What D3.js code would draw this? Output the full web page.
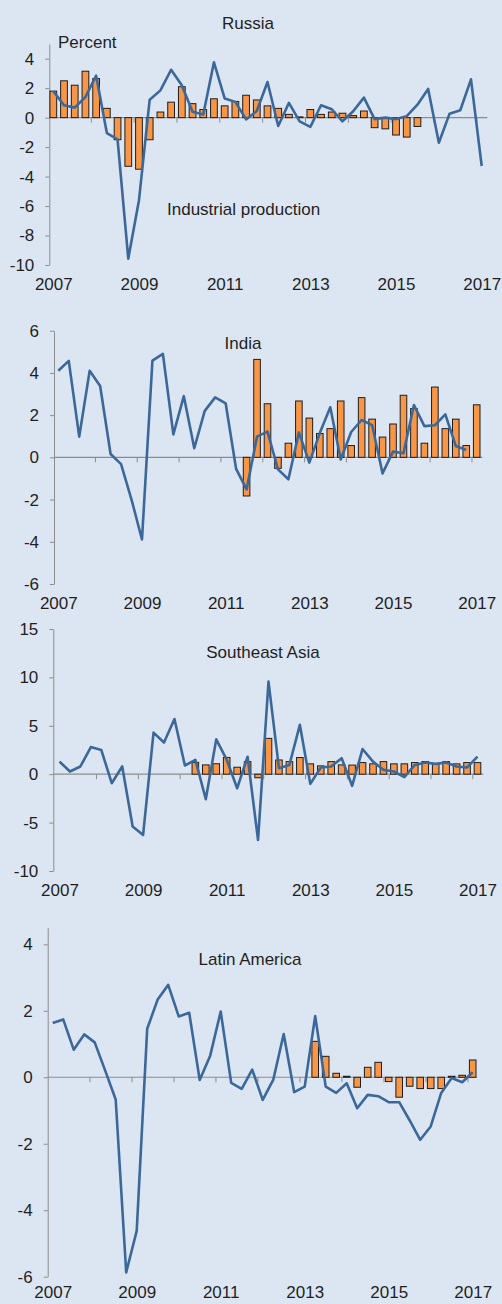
<!DOCTYPE html>
<html>
<head>
<meta charset="utf-8">
<script src="https://cdn.jsdelivr.net/npm/d3@7"></script>
<style>
  body { margin: 0; background: #dce6f2; }
  svg { display: block; font-family: "Liberation Sans", Arial, sans-serif; }
</style>
</head>
<body>
<script>
// quarterly, 2007Q1 .. 2017Q1 (41 points)
const yearLabels = ["2007", "2009", "2011", "2013", "2015", "2017"];
const labelQuarters = [0, 8, 16, 24, 32, 40];
const yearTickQuarters = [3.5, 7.5, 11.5, 15.5, 19.5, 23.5, 27.5, 31.5, 35.5, 39.5];

const russiaLine = [1.8, 0.84, 0.68, 1.4, 2.85, -1.05, -1.47, -9.57, -5.6, 1.22, 1.85, 3.25, 2.2, 0.4, 0.22, 3.75,
  1.3, 1.07, -0.12, 0.45, 2.42, -0.57, 1.0, -0.25, -0.63, 0.84, 0.57, -0.25, 0.43, 1.36, -0.1, 0.0, -0.1, 0.1, 0.88,
  1.95, -1.7, 0.27, 0.5, 2.6, -3.28];
const russiaBars = [1.8, 2.5, 2.2, 3.15, 2.65, 0.63, -1.5, -3.3, -3.5, -1.5, 0.38, 1.05, 2.1, 0.95, 0.55, 1.28, 0.8,
  1.1, 1.52, 1.2, 0.8, 0.63, 0.22, 0.05, 0.55, 0.22, 0.38, 0.3, 0.14, 0.45, -0.68, -0.76, -1.18, -1.32, -0.6,
  null, null, null, null, null, null];

const indiaLine = [4.1, 4.57, 0.98, 4.1, 3.38, 0.16, -0.32, -2.0, -3.89, 4.58, 4.9, 1.09, 2.9, 0.43, 2.2, 2.84, 2.56,
  -0.55, -1.52, 0.98, 1.22, -0.57, -1.04, 1.18, -0.25, 1.15, 2.37, -0.1, 1.2, 1.77, 1.53, -0.76, 0.27, 0.19, 2.48,
  1.48, 1.52, 2.04, 0.54, 0.35, null];
const indiaBars = [null, null, null, null, null, null, null, null, null, null, null, null, null, null, null, null,
  null, null, -1.83, 4.64, 2.54, -0.52, 0.67, 2.67, 1.86, 1.13, 1.36, 2.67, 0.56, 2.83, 1.81, 0.96, 1.58, 2.94,
  2.31, 0.67, 3.33, 1.36, 1.81, 0.56, 2.49];

const seaLine = [1.3, 0.28, 0.8, 2.8, 2.5, -0.93, 0.8, -5.4, -6.27, 4.3, 3.27, 5.7, 0.9, 1.48, -2.58, 3.6, 1.5,
  -1.45, 1.8, -6.8, 9.57, 0.62, 0.96, 5.1, -1.0, 0.69, 0.8, 1.65, -1.2, 2.6, 1.3, 0.45, 0.28, -0.3, 0.96, 1.2,
  1.07, 1.2, 0.8, 0.69, 1.82];
const seaBars = [null, null, null, null, null, null, null, null, null, null, null, null, null, 1.22, 0.96, 1.08,
  1.73, 0.72, 1.3, -0.37, 3.7, 1.47, 1.3, 1.72, 1.07, 0.86, 1.3, 0.96, 0.94, 1.2, 1.07, 1.3, 1.07, 1.07, 1.2, 1.3,
  1.03, 1.3, 1.07, 1.2, 1.2];

const latamLine = [1.63, 1.74, 0.83, 1.29, 1.05, 0.2, -0.67, -5.87, -4.62, 1.46, 2.34, 2.78, 1.83, 1.94, -0.08,
  0.65, 1.98, -0.17, -0.35, 0.23, -0.68, -0.08, 1.3, -0.45, -0.28, 1.84, -0.28, -0.47, -0.18, -0.93, -0.53, -0.57,
  -0.75, -0.75, -1.3, -1.88, -1.48, -0.47, -0.02, -0.15, 0.15];
const latamBars = [null, null, null, null, null, null, null, null, null, null, null, null, null, null, null, null,
  null, null, null, null, null, null, null, null, null, 1.08, 0.63, 0.12, 0.03, -0.3, 0.3, 0.45, -0.13, -0.6, -0.27,
  -0.34, -0.34, -0.34, 0.03, 0.06, 0.52];

const panels = [
  { title: "Russia", line: russiaLine, bars: russiaBars, yDomain: [-10, 5], yTicks: [-10, -8, -6, -4, -2, 0, 2, 4],
    axisX: 49.3, x0: 53.3, x40: 481.7, right: 487.3, yTop: 43.96, yBot: 265, labelPad: 13, titleX: 248, titleY: 22.7 },
  { title: "India", line: indiaLine, bars: indiaBars, yDomain: [-6, 6], yTicks: [-6, -4, -2, 0, 2, 4, 6],
    axisX: 54, x0: 58.3, x40: 476.7, right: 482.3, yTop: 330.7, yBot: 584, labelPad: 13, titleX: 243, titleY: 343.3 },
  { title: "Southeast Asia", line: seaLine, bars: seaBars, yDomain: [-10, 15], yTicks: [-10, -5, 0, 5, 10, 15],
    axisX: 53.3, x0: 59.5, x40: 477.5, right: 483.3, yTop: 629, yBot: 871, labelPad: 13, titleX: 263, titleY: 652.3 },
  { title: "Latin America", line: latamLine, bars: latamBars, yDomain: [-6, 4.5], yTicks: [-6, -4, -2, 0, 2, 4],
    axisX: 47.7, x0: 52.7, x40: 472.7, right: 476.7, yTop: 927.7, yBot: 1276.7, labelPad: 9, titleX: 250, titleY: 959.3 }
];

const W = 502, H = 1304;
const textColor = "#1f1f1f";
const axisColor = "#8c8c8c";

const svg = d3.select("body").append("svg").attr("width", W).attr("height", H);
svg.append("rect").attr("width", W).attr("height", H).attr("fill", "#dce6f2");

panels.forEach((p) => {
  const g = svg.append("g");
  const x = d3.scaleLinear().domain([0, 40]).range([p.x0, p.x40]);
  const y = d3.scaleLinear().domain(p.yDomain).range([p.yBot, p.yTop]);
  const step = x(1) - x(0);
  const bw = step * 0.63;

  // y axis
  const yAxis = g.append("g")
    .attr("transform", `translate(${p.axisX},0)`)
    .call(d3.axisLeft(y).tickValues(p.yTicks).tickSize(4).tickSizeOuter(0).tickPadding(11).tickFormat(d3.format("d")));
  yAxis.select(".domain").attr("stroke", axisColor);
  yAxis.selectAll(".tick line").attr("stroke", axisColor);
  yAxis.selectAll(".tick text")
    .attr("fill", textColor).style("font-size", "17px").style("font-family", "Liberation Sans, Arial, sans-serif")
    .text((d) => (d < 0 ? "-" + Math.abs(d) : d));

  // zero line with yearly ticks
  g.append("line")
    .attr("x1", p.axisX).attr("x2", p.right)
    .attr("y1", y(0)).attr("y2", y(0))
    .attr("stroke", axisColor).attr("stroke-width", 1.2);
  const zAxis = g.append("g")
    .attr("transform", `translate(0,${y(0)})`)
    .call(d3.axisBottom(x).tickValues(yearTickQuarters).tickSize(5).tickFormat(""));
  zAxis.select(".domain").remove();
  zAxis.selectAll(".tick line").attr("stroke", axisColor);

  // year labels along the bottom
  const xAxis = g.append("g")
    .attr("transform", `translate(0,${p.yBot})`)
    .call(d3.axisBottom(x).tickValues(labelQuarters).tickSize(0).tickPadding(p.labelPad)
      .tickFormat((d, i) => yearLabels[i]));
  xAxis.select(".domain").remove();
  xAxis.selectAll(".tick text")
    .attr("fill", textColor).style("font-size", "17px").style("font-family", "Liberation Sans, Arial, sans-serif");

  // bars
  g.selectAll("rect.bar")
    .data(p.bars.map((v, i) => ({ i, v })).filter((d) => d.v !== null))
    .enter()
    .append("rect")
    .attr("class", "bar")
    .attr("x", (d) => x(d.i) - bw / 2)
    .attr("y", (d) => y(Math.max(0, d.v)))
    .attr("width", bw)
    .attr("height", (d) => Math.abs(y(d.v) - y(0)))
    .attr("fill", "#f79646")
    .attr("stroke", "#1e1e1e")
    .attr("stroke-width", 1);

  // industrial production line
  const line = d3.line()
    .defined((d) => d !== null)
    .x((d, i) => x(i))
    .y((d) => y(d));
  g.append("path")
    .datum(p.line)
    .attr("d", line)
    .attr("fill", "none")
    .attr("stroke", "#3c6899")
    .attr("stroke-width", 2.6)
    .attr("stroke-linejoin", "round");

  g.append("text")
    .attr("x", p.titleX).attr("y", p.titleY)
    .attr("dy", "0.35em")
    .attr("text-anchor", "middle")
    .attr("fill", textColor)
    .style("font-size", "17px")
    .text(p.title);
});

svg.append("text")
  .attr("x", 58).attr("y", 41.7).attr("dy", "0.35em")
  .attr("fill", textColor).style("font-size", "17px")
  .text("Percent");

svg.append("text")
  .attr("x", 167).attr("y", 209).attr("dy", "0.35em")
  .attr("fill", textColor).style("font-size", "17px")
  .text("Industrial production");
</script>
</body>
</html>
